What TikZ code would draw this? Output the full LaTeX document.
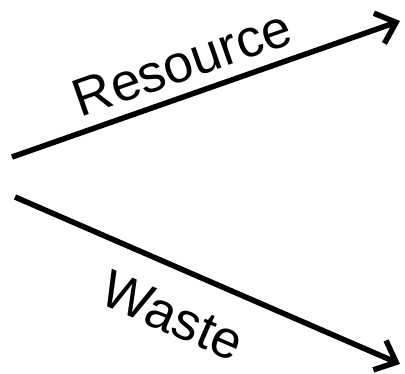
\documentclass[tikz,border=0pt]{standalone}
\usepackage{fontspec}
\setmainfont{Liberation Sans}
\usetikzlibrary{arrows.meta}
\begin{document}
\begin{tikzpicture}[x=1pt,y=-1pt,
  flow/.style={line width=5.5pt,-{Straight Barb[length=18pt,width=32pt,line width=5.5pt]}},
  lbl/.style={font=\fontsize{53}{53}\selectfont,inner sep=0pt}]
\useasboundingbox (0,0) rectangle (405,374);
\coordinate (rs) at (12,157);
\coordinate (re) at (400,21);
\coordinate (ws) at (15,197);
\coordinate (we) at (400,364);
\draw[flow] (rs) -- (re);
\draw[flow] (ws) -- (we);
\node[lbl,rotate=19.3] (res) at (182,63) {Resource};
\node[lbl,rotate=-23.5] (wst) at (173,316) {Waste};
\end{tikzpicture}
\end{document}
